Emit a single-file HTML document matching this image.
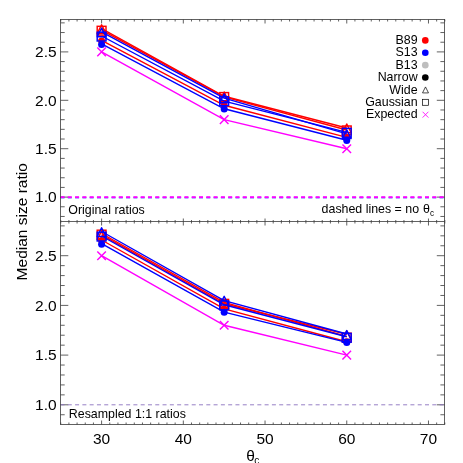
<!DOCTYPE html>
<html><head><meta charset="utf-8"><title>Median size ratio</title>
<style>html,body{margin:0;padding:0;background:#fff;}body{width:463px;height:463px;overflow:hidden;font-family:"Liberation Sans",sans-serif;}svg{display:block;will-change:transform;}</style>
</head><body>
<svg width="463" height="463" viewBox="0 0 463 463" font-family="Liberation Sans, sans-serif" fill="#000">
<rect width="463" height="463" fill="#fff"/>
<g stroke="#3a3a3a" stroke-width="0.8">
<line x1="60.74" y1="19.50" x2="60.74" y2="21.50" stroke="#3a3a3a" stroke-width="0.8" />
<line x1="60.74" y1="220.00" x2="60.74" y2="223.50" stroke="#3a3a3a" stroke-width="0.8" />
<line x1="60.74" y1="424.50" x2="60.74" y2="422.50" stroke="#3a3a3a" stroke-width="0.8" />
<line x1="68.91" y1="19.50" x2="68.91" y2="21.50" stroke="#3a3a3a" stroke-width="0.8" />
<line x1="68.91" y1="220.00" x2="68.91" y2="223.50" stroke="#3a3a3a" stroke-width="0.8" />
<line x1="68.91" y1="424.50" x2="68.91" y2="422.50" stroke="#3a3a3a" stroke-width="0.8" />
<line x1="77.08" y1="19.50" x2="77.08" y2="21.50" stroke="#3a3a3a" stroke-width="0.8" />
<line x1="77.08" y1="220.00" x2="77.08" y2="223.50" stroke="#3a3a3a" stroke-width="0.8" />
<line x1="77.08" y1="424.50" x2="77.08" y2="422.50" stroke="#3a3a3a" stroke-width="0.8" />
<line x1="85.26" y1="19.50" x2="85.26" y2="21.50" stroke="#3a3a3a" stroke-width="0.8" />
<line x1="85.26" y1="220.00" x2="85.26" y2="223.50" stroke="#3a3a3a" stroke-width="0.8" />
<line x1="85.26" y1="424.50" x2="85.26" y2="422.50" stroke="#3a3a3a" stroke-width="0.8" />
<line x1="93.43" y1="19.50" x2="93.43" y2="21.50" stroke="#3a3a3a" stroke-width="0.8" />
<line x1="93.43" y1="220.00" x2="93.43" y2="223.50" stroke="#3a3a3a" stroke-width="0.8" />
<line x1="93.43" y1="424.50" x2="93.43" y2="422.50" stroke="#3a3a3a" stroke-width="0.8" />
<line x1="101.60" y1="19.50" x2="101.60" y2="23.50" stroke="#3a3a3a" stroke-width="0.8" />
<line x1="101.60" y1="218.50" x2="101.60" y2="225.50" stroke="#3a3a3a" stroke-width="0.8" />
<line x1="101.60" y1="424.50" x2="101.60" y2="420.50" stroke="#3a3a3a" stroke-width="0.8" />
<line x1="109.77" y1="19.50" x2="109.77" y2="21.50" stroke="#3a3a3a" stroke-width="0.8" />
<line x1="109.77" y1="220.00" x2="109.77" y2="223.50" stroke="#3a3a3a" stroke-width="0.8" />
<line x1="109.77" y1="424.50" x2="109.77" y2="422.50" stroke="#3a3a3a" stroke-width="0.8" />
<line x1="117.94" y1="19.50" x2="117.94" y2="21.50" stroke="#3a3a3a" stroke-width="0.8" />
<line x1="117.94" y1="220.00" x2="117.94" y2="223.50" stroke="#3a3a3a" stroke-width="0.8" />
<line x1="117.94" y1="424.50" x2="117.94" y2="422.50" stroke="#3a3a3a" stroke-width="0.8" />
<line x1="126.12" y1="19.50" x2="126.12" y2="21.50" stroke="#3a3a3a" stroke-width="0.8" />
<line x1="126.12" y1="220.00" x2="126.12" y2="223.50" stroke="#3a3a3a" stroke-width="0.8" />
<line x1="126.12" y1="424.50" x2="126.12" y2="422.50" stroke="#3a3a3a" stroke-width="0.8" />
<line x1="134.29" y1="19.50" x2="134.29" y2="21.50" stroke="#3a3a3a" stroke-width="0.8" />
<line x1="134.29" y1="220.00" x2="134.29" y2="223.50" stroke="#3a3a3a" stroke-width="0.8" />
<line x1="134.29" y1="424.50" x2="134.29" y2="422.50" stroke="#3a3a3a" stroke-width="0.8" />
<line x1="142.46" y1="19.50" x2="142.46" y2="21.50" stroke="#3a3a3a" stroke-width="0.8" />
<line x1="142.46" y1="220.00" x2="142.46" y2="223.50" stroke="#3a3a3a" stroke-width="0.8" />
<line x1="142.46" y1="424.50" x2="142.46" y2="422.50" stroke="#3a3a3a" stroke-width="0.8" />
<line x1="150.63" y1="19.50" x2="150.63" y2="21.50" stroke="#3a3a3a" stroke-width="0.8" />
<line x1="150.63" y1="220.00" x2="150.63" y2="223.50" stroke="#3a3a3a" stroke-width="0.8" />
<line x1="150.63" y1="424.50" x2="150.63" y2="422.50" stroke="#3a3a3a" stroke-width="0.8" />
<line x1="158.80" y1="19.50" x2="158.80" y2="21.50" stroke="#3a3a3a" stroke-width="0.8" />
<line x1="158.80" y1="220.00" x2="158.80" y2="223.50" stroke="#3a3a3a" stroke-width="0.8" />
<line x1="158.80" y1="424.50" x2="158.80" y2="422.50" stroke="#3a3a3a" stroke-width="0.8" />
<line x1="166.98" y1="19.50" x2="166.98" y2="21.50" stroke="#3a3a3a" stroke-width="0.8" />
<line x1="166.98" y1="220.00" x2="166.98" y2="223.50" stroke="#3a3a3a" stroke-width="0.8" />
<line x1="166.98" y1="424.50" x2="166.98" y2="422.50" stroke="#3a3a3a" stroke-width="0.8" />
<line x1="175.15" y1="19.50" x2="175.15" y2="21.50" stroke="#3a3a3a" stroke-width="0.8" />
<line x1="175.15" y1="220.00" x2="175.15" y2="223.50" stroke="#3a3a3a" stroke-width="0.8" />
<line x1="175.15" y1="424.50" x2="175.15" y2="422.50" stroke="#3a3a3a" stroke-width="0.8" />
<line x1="183.32" y1="19.50" x2="183.32" y2="23.50" stroke="#3a3a3a" stroke-width="0.8" />
<line x1="183.32" y1="218.50" x2="183.32" y2="225.50" stroke="#3a3a3a" stroke-width="0.8" />
<line x1="183.32" y1="424.50" x2="183.32" y2="420.50" stroke="#3a3a3a" stroke-width="0.8" />
<line x1="191.49" y1="19.50" x2="191.49" y2="21.50" stroke="#3a3a3a" stroke-width="0.8" />
<line x1="191.49" y1="220.00" x2="191.49" y2="223.50" stroke="#3a3a3a" stroke-width="0.8" />
<line x1="191.49" y1="424.50" x2="191.49" y2="422.50" stroke="#3a3a3a" stroke-width="0.8" />
<line x1="199.66" y1="19.50" x2="199.66" y2="21.50" stroke="#3a3a3a" stroke-width="0.8" />
<line x1="199.66" y1="220.00" x2="199.66" y2="223.50" stroke="#3a3a3a" stroke-width="0.8" />
<line x1="199.66" y1="424.50" x2="199.66" y2="422.50" stroke="#3a3a3a" stroke-width="0.8" />
<line x1="207.84" y1="19.50" x2="207.84" y2="21.50" stroke="#3a3a3a" stroke-width="0.8" />
<line x1="207.84" y1="220.00" x2="207.84" y2="223.50" stroke="#3a3a3a" stroke-width="0.8" />
<line x1="207.84" y1="424.50" x2="207.84" y2="422.50" stroke="#3a3a3a" stroke-width="0.8" />
<line x1="216.01" y1="19.50" x2="216.01" y2="21.50" stroke="#3a3a3a" stroke-width="0.8" />
<line x1="216.01" y1="220.00" x2="216.01" y2="223.50" stroke="#3a3a3a" stroke-width="0.8" />
<line x1="216.01" y1="424.50" x2="216.01" y2="422.50" stroke="#3a3a3a" stroke-width="0.8" />
<line x1="224.18" y1="19.50" x2="224.18" y2="21.50" stroke="#3a3a3a" stroke-width="0.8" />
<line x1="224.18" y1="220.00" x2="224.18" y2="223.50" stroke="#3a3a3a" stroke-width="0.8" />
<line x1="224.18" y1="424.50" x2="224.18" y2="422.50" stroke="#3a3a3a" stroke-width="0.8" />
<line x1="232.35" y1="19.50" x2="232.35" y2="21.50" stroke="#3a3a3a" stroke-width="0.8" />
<line x1="232.35" y1="220.00" x2="232.35" y2="223.50" stroke="#3a3a3a" stroke-width="0.8" />
<line x1="232.35" y1="424.50" x2="232.35" y2="422.50" stroke="#3a3a3a" stroke-width="0.8" />
<line x1="240.52" y1="19.50" x2="240.52" y2="21.50" stroke="#3a3a3a" stroke-width="0.8" />
<line x1="240.52" y1="220.00" x2="240.52" y2="223.50" stroke="#3a3a3a" stroke-width="0.8" />
<line x1="240.52" y1="424.50" x2="240.52" y2="422.50" stroke="#3a3a3a" stroke-width="0.8" />
<line x1="248.70" y1="19.50" x2="248.70" y2="21.50" stroke="#3a3a3a" stroke-width="0.8" />
<line x1="248.70" y1="220.00" x2="248.70" y2="223.50" stroke="#3a3a3a" stroke-width="0.8" />
<line x1="248.70" y1="424.50" x2="248.70" y2="422.50" stroke="#3a3a3a" stroke-width="0.8" />
<line x1="256.87" y1="19.50" x2="256.87" y2="21.50" stroke="#3a3a3a" stroke-width="0.8" />
<line x1="256.87" y1="220.00" x2="256.87" y2="223.50" stroke="#3a3a3a" stroke-width="0.8" />
<line x1="256.87" y1="424.50" x2="256.87" y2="422.50" stroke="#3a3a3a" stroke-width="0.8" />
<line x1="265.04" y1="19.50" x2="265.04" y2="23.50" stroke="#3a3a3a" stroke-width="0.8" />
<line x1="265.04" y1="218.50" x2="265.04" y2="225.50" stroke="#3a3a3a" stroke-width="0.8" />
<line x1="265.04" y1="424.50" x2="265.04" y2="420.50" stroke="#3a3a3a" stroke-width="0.8" />
<line x1="273.21" y1="19.50" x2="273.21" y2="21.50" stroke="#3a3a3a" stroke-width="0.8" />
<line x1="273.21" y1="220.00" x2="273.21" y2="223.50" stroke="#3a3a3a" stroke-width="0.8" />
<line x1="273.21" y1="424.50" x2="273.21" y2="422.50" stroke="#3a3a3a" stroke-width="0.8" />
<line x1="281.38" y1="19.50" x2="281.38" y2="21.50" stroke="#3a3a3a" stroke-width="0.8" />
<line x1="281.38" y1="220.00" x2="281.38" y2="223.50" stroke="#3a3a3a" stroke-width="0.8" />
<line x1="281.38" y1="424.50" x2="281.38" y2="422.50" stroke="#3a3a3a" stroke-width="0.8" />
<line x1="289.56" y1="19.50" x2="289.56" y2="21.50" stroke="#3a3a3a" stroke-width="0.8" />
<line x1="289.56" y1="220.00" x2="289.56" y2="223.50" stroke="#3a3a3a" stroke-width="0.8" />
<line x1="289.56" y1="424.50" x2="289.56" y2="422.50" stroke="#3a3a3a" stroke-width="0.8" />
<line x1="297.73" y1="19.50" x2="297.73" y2="21.50" stroke="#3a3a3a" stroke-width="0.8" />
<line x1="297.73" y1="220.00" x2="297.73" y2="223.50" stroke="#3a3a3a" stroke-width="0.8" />
<line x1="297.73" y1="424.50" x2="297.73" y2="422.50" stroke="#3a3a3a" stroke-width="0.8" />
<line x1="305.90" y1="19.50" x2="305.90" y2="21.50" stroke="#3a3a3a" stroke-width="0.8" />
<line x1="305.90" y1="220.00" x2="305.90" y2="223.50" stroke="#3a3a3a" stroke-width="0.8" />
<line x1="305.90" y1="424.50" x2="305.90" y2="422.50" stroke="#3a3a3a" stroke-width="0.8" />
<line x1="314.07" y1="19.50" x2="314.07" y2="21.50" stroke="#3a3a3a" stroke-width="0.8" />
<line x1="314.07" y1="220.00" x2="314.07" y2="223.50" stroke="#3a3a3a" stroke-width="0.8" />
<line x1="314.07" y1="424.50" x2="314.07" y2="422.50" stroke="#3a3a3a" stroke-width="0.8" />
<line x1="322.24" y1="19.50" x2="322.24" y2="21.50" stroke="#3a3a3a" stroke-width="0.8" />
<line x1="322.24" y1="220.00" x2="322.24" y2="223.50" stroke="#3a3a3a" stroke-width="0.8" />
<line x1="322.24" y1="424.50" x2="322.24" y2="422.50" stroke="#3a3a3a" stroke-width="0.8" />
<line x1="330.42" y1="19.50" x2="330.42" y2="21.50" stroke="#3a3a3a" stroke-width="0.8" />
<line x1="330.42" y1="220.00" x2="330.42" y2="223.50" stroke="#3a3a3a" stroke-width="0.8" />
<line x1="330.42" y1="424.50" x2="330.42" y2="422.50" stroke="#3a3a3a" stroke-width="0.8" />
<line x1="338.59" y1="19.50" x2="338.59" y2="21.50" stroke="#3a3a3a" stroke-width="0.8" />
<line x1="338.59" y1="220.00" x2="338.59" y2="223.50" stroke="#3a3a3a" stroke-width="0.8" />
<line x1="338.59" y1="424.50" x2="338.59" y2="422.50" stroke="#3a3a3a" stroke-width="0.8" />
<line x1="346.76" y1="19.50" x2="346.76" y2="23.50" stroke="#3a3a3a" stroke-width="0.8" />
<line x1="346.76" y1="218.50" x2="346.76" y2="225.50" stroke="#3a3a3a" stroke-width="0.8" />
<line x1="346.76" y1="424.50" x2="346.76" y2="420.50" stroke="#3a3a3a" stroke-width="0.8" />
<line x1="354.93" y1="19.50" x2="354.93" y2="21.50" stroke="#3a3a3a" stroke-width="0.8" />
<line x1="354.93" y1="220.00" x2="354.93" y2="223.50" stroke="#3a3a3a" stroke-width="0.8" />
<line x1="354.93" y1="424.50" x2="354.93" y2="422.50" stroke="#3a3a3a" stroke-width="0.8" />
<line x1="363.10" y1="19.50" x2="363.10" y2="21.50" stroke="#3a3a3a" stroke-width="0.8" />
<line x1="363.10" y1="220.00" x2="363.10" y2="223.50" stroke="#3a3a3a" stroke-width="0.8" />
<line x1="363.10" y1="424.50" x2="363.10" y2="422.50" stroke="#3a3a3a" stroke-width="0.8" />
<line x1="371.28" y1="19.50" x2="371.28" y2="21.50" stroke="#3a3a3a" stroke-width="0.8" />
<line x1="371.28" y1="220.00" x2="371.28" y2="223.50" stroke="#3a3a3a" stroke-width="0.8" />
<line x1="371.28" y1="424.50" x2="371.28" y2="422.50" stroke="#3a3a3a" stroke-width="0.8" />
<line x1="379.45" y1="19.50" x2="379.45" y2="21.50" stroke="#3a3a3a" stroke-width="0.8" />
<line x1="379.45" y1="220.00" x2="379.45" y2="223.50" stroke="#3a3a3a" stroke-width="0.8" />
<line x1="379.45" y1="424.50" x2="379.45" y2="422.50" stroke="#3a3a3a" stroke-width="0.8" />
<line x1="387.62" y1="19.50" x2="387.62" y2="21.50" stroke="#3a3a3a" stroke-width="0.8" />
<line x1="387.62" y1="220.00" x2="387.62" y2="223.50" stroke="#3a3a3a" stroke-width="0.8" />
<line x1="387.62" y1="424.50" x2="387.62" y2="422.50" stroke="#3a3a3a" stroke-width="0.8" />
<line x1="395.79" y1="19.50" x2="395.79" y2="21.50" stroke="#3a3a3a" stroke-width="0.8" />
<line x1="395.79" y1="220.00" x2="395.79" y2="223.50" stroke="#3a3a3a" stroke-width="0.8" />
<line x1="395.79" y1="424.50" x2="395.79" y2="422.50" stroke="#3a3a3a" stroke-width="0.8" />
<line x1="403.96" y1="19.50" x2="403.96" y2="21.50" stroke="#3a3a3a" stroke-width="0.8" />
<line x1="403.96" y1="220.00" x2="403.96" y2="223.50" stroke="#3a3a3a" stroke-width="0.8" />
<line x1="403.96" y1="424.50" x2="403.96" y2="422.50" stroke="#3a3a3a" stroke-width="0.8" />
<line x1="412.14" y1="19.50" x2="412.14" y2="21.50" stroke="#3a3a3a" stroke-width="0.8" />
<line x1="412.14" y1="220.00" x2="412.14" y2="223.50" stroke="#3a3a3a" stroke-width="0.8" />
<line x1="412.14" y1="424.50" x2="412.14" y2="422.50" stroke="#3a3a3a" stroke-width="0.8" />
<line x1="420.31" y1="19.50" x2="420.31" y2="21.50" stroke="#3a3a3a" stroke-width="0.8" />
<line x1="420.31" y1="220.00" x2="420.31" y2="223.50" stroke="#3a3a3a" stroke-width="0.8" />
<line x1="420.31" y1="424.50" x2="420.31" y2="422.50" stroke="#3a3a3a" stroke-width="0.8" />
<line x1="428.48" y1="19.50" x2="428.48" y2="23.50" stroke="#3a3a3a" stroke-width="0.8" />
<line x1="428.48" y1="218.50" x2="428.48" y2="225.50" stroke="#3a3a3a" stroke-width="0.8" />
<line x1="428.48" y1="424.50" x2="428.48" y2="420.50" stroke="#3a3a3a" stroke-width="0.8" />
<line x1="436.65" y1="19.50" x2="436.65" y2="21.50" stroke="#3a3a3a" stroke-width="0.8" />
<line x1="436.65" y1="220.00" x2="436.65" y2="223.50" stroke="#3a3a3a" stroke-width="0.8" />
<line x1="436.65" y1="424.50" x2="436.65" y2="422.50" stroke="#3a3a3a" stroke-width="0.8" />
<line x1="444.82" y1="19.50" x2="444.82" y2="21.50" stroke="#3a3a3a" stroke-width="0.8" />
<line x1="444.82" y1="220.00" x2="444.82" y2="223.50" stroke="#3a3a3a" stroke-width="0.8" />
<line x1="444.82" y1="424.50" x2="444.82" y2="422.50" stroke="#3a3a3a" stroke-width="0.8" />
<line x1="60.50" y1="216.46" x2="64.70" y2="216.46" stroke="#3a3a3a" stroke-width="0.8" />
<line x1="444.60" y1="216.46" x2="440.40" y2="216.46" stroke="#3a3a3a" stroke-width="0.8" />
<line x1="60.50" y1="206.78" x2="64.70" y2="206.78" stroke="#3a3a3a" stroke-width="0.8" />
<line x1="444.60" y1="206.78" x2="440.40" y2="206.78" stroke="#3a3a3a" stroke-width="0.8" />
<line x1="60.50" y1="197.10" x2="68.30" y2="197.10" stroke="#3a3a3a" stroke-width="0.8" />
<line x1="444.60" y1="197.10" x2="436.80" y2="197.10" stroke="#3a3a3a" stroke-width="0.8" />
<line x1="60.50" y1="187.42" x2="64.70" y2="187.42" stroke="#3a3a3a" stroke-width="0.8" />
<line x1="444.60" y1="187.42" x2="440.40" y2="187.42" stroke="#3a3a3a" stroke-width="0.8" />
<line x1="60.50" y1="177.74" x2="64.70" y2="177.74" stroke="#3a3a3a" stroke-width="0.8" />
<line x1="444.60" y1="177.74" x2="440.40" y2="177.74" stroke="#3a3a3a" stroke-width="0.8" />
<line x1="60.50" y1="168.06" x2="64.70" y2="168.06" stroke="#3a3a3a" stroke-width="0.8" />
<line x1="444.60" y1="168.06" x2="440.40" y2="168.06" stroke="#3a3a3a" stroke-width="0.8" />
<line x1="60.50" y1="158.38" x2="64.70" y2="158.38" stroke="#3a3a3a" stroke-width="0.8" />
<line x1="444.60" y1="158.38" x2="440.40" y2="158.38" stroke="#3a3a3a" stroke-width="0.8" />
<line x1="60.50" y1="148.70" x2="68.30" y2="148.70" stroke="#3a3a3a" stroke-width="0.8" />
<line x1="444.60" y1="148.70" x2="436.80" y2="148.70" stroke="#3a3a3a" stroke-width="0.8" />
<line x1="60.50" y1="139.02" x2="64.70" y2="139.02" stroke="#3a3a3a" stroke-width="0.8" />
<line x1="444.60" y1="139.02" x2="440.40" y2="139.02" stroke="#3a3a3a" stroke-width="0.8" />
<line x1="60.50" y1="129.34" x2="64.70" y2="129.34" stroke="#3a3a3a" stroke-width="0.8" />
<line x1="444.60" y1="129.34" x2="440.40" y2="129.34" stroke="#3a3a3a" stroke-width="0.8" />
<line x1="60.50" y1="119.66" x2="64.70" y2="119.66" stroke="#3a3a3a" stroke-width="0.8" />
<line x1="444.60" y1="119.66" x2="440.40" y2="119.66" stroke="#3a3a3a" stroke-width="0.8" />
<line x1="60.50" y1="109.98" x2="64.70" y2="109.98" stroke="#3a3a3a" stroke-width="0.8" />
<line x1="444.60" y1="109.98" x2="440.40" y2="109.98" stroke="#3a3a3a" stroke-width="0.8" />
<line x1="60.50" y1="100.30" x2="68.30" y2="100.30" stroke="#3a3a3a" stroke-width="0.8" />
<line x1="444.60" y1="100.30" x2="436.80" y2="100.30" stroke="#3a3a3a" stroke-width="0.8" />
<line x1="60.50" y1="90.62" x2="64.70" y2="90.62" stroke="#3a3a3a" stroke-width="0.8" />
<line x1="444.60" y1="90.62" x2="440.40" y2="90.62" stroke="#3a3a3a" stroke-width="0.8" />
<line x1="60.50" y1="80.94" x2="64.70" y2="80.94" stroke="#3a3a3a" stroke-width="0.8" />
<line x1="444.60" y1="80.94" x2="440.40" y2="80.94" stroke="#3a3a3a" stroke-width="0.8" />
<line x1="60.50" y1="71.26" x2="64.70" y2="71.26" stroke="#3a3a3a" stroke-width="0.8" />
<line x1="444.60" y1="71.26" x2="440.40" y2="71.26" stroke="#3a3a3a" stroke-width="0.8" />
<line x1="60.50" y1="61.58" x2="64.70" y2="61.58" stroke="#3a3a3a" stroke-width="0.8" />
<line x1="444.60" y1="61.58" x2="440.40" y2="61.58" stroke="#3a3a3a" stroke-width="0.8" />
<line x1="60.50" y1="51.90" x2="68.30" y2="51.90" stroke="#3a3a3a" stroke-width="0.8" />
<line x1="444.60" y1="51.90" x2="436.80" y2="51.90" stroke="#3a3a3a" stroke-width="0.8" />
<line x1="60.50" y1="42.22" x2="64.70" y2="42.22" stroke="#3a3a3a" stroke-width="0.8" />
<line x1="444.60" y1="42.22" x2="440.40" y2="42.22" stroke="#3a3a3a" stroke-width="0.8" />
<line x1="60.50" y1="32.54" x2="64.70" y2="32.54" stroke="#3a3a3a" stroke-width="0.8" />
<line x1="444.60" y1="32.54" x2="440.40" y2="32.54" stroke="#3a3a3a" stroke-width="0.8" />
<line x1="60.50" y1="22.86" x2="64.70" y2="22.86" stroke="#3a3a3a" stroke-width="0.8" />
<line x1="444.60" y1="22.86" x2="440.40" y2="22.86" stroke="#3a3a3a" stroke-width="0.8" />
<line x1="60.50" y1="414.74" x2="64.70" y2="414.74" stroke="#3a3a3a" stroke-width="0.8" />
<line x1="444.60" y1="414.74" x2="440.40" y2="414.74" stroke="#3a3a3a" stroke-width="0.8" />
<line x1="60.50" y1="404.80" x2="68.30" y2="404.80" stroke="#3a3a3a" stroke-width="0.8" />
<line x1="444.60" y1="404.80" x2="436.80" y2="404.80" stroke="#3a3a3a" stroke-width="0.8" />
<line x1="60.50" y1="394.86" x2="64.70" y2="394.86" stroke="#3a3a3a" stroke-width="0.8" />
<line x1="444.60" y1="394.86" x2="440.40" y2="394.86" stroke="#3a3a3a" stroke-width="0.8" />
<line x1="60.50" y1="384.92" x2="64.70" y2="384.92" stroke="#3a3a3a" stroke-width="0.8" />
<line x1="444.60" y1="384.92" x2="440.40" y2="384.92" stroke="#3a3a3a" stroke-width="0.8" />
<line x1="60.50" y1="374.98" x2="64.70" y2="374.98" stroke="#3a3a3a" stroke-width="0.8" />
<line x1="444.60" y1="374.98" x2="440.40" y2="374.98" stroke="#3a3a3a" stroke-width="0.8" />
<line x1="60.50" y1="365.04" x2="64.70" y2="365.04" stroke="#3a3a3a" stroke-width="0.8" />
<line x1="444.60" y1="365.04" x2="440.40" y2="365.04" stroke="#3a3a3a" stroke-width="0.8" />
<line x1="60.50" y1="355.10" x2="68.30" y2="355.10" stroke="#3a3a3a" stroke-width="0.8" />
<line x1="444.60" y1="355.10" x2="436.80" y2="355.10" stroke="#3a3a3a" stroke-width="0.8" />
<line x1="60.50" y1="345.16" x2="64.70" y2="345.16" stroke="#3a3a3a" stroke-width="0.8" />
<line x1="444.60" y1="345.16" x2="440.40" y2="345.16" stroke="#3a3a3a" stroke-width="0.8" />
<line x1="60.50" y1="335.22" x2="64.70" y2="335.22" stroke="#3a3a3a" stroke-width="0.8" />
<line x1="444.60" y1="335.22" x2="440.40" y2="335.22" stroke="#3a3a3a" stroke-width="0.8" />
<line x1="60.50" y1="325.28" x2="64.70" y2="325.28" stroke="#3a3a3a" stroke-width="0.8" />
<line x1="444.60" y1="325.28" x2="440.40" y2="325.28" stroke="#3a3a3a" stroke-width="0.8" />
<line x1="60.50" y1="315.34" x2="64.70" y2="315.34" stroke="#3a3a3a" stroke-width="0.8" />
<line x1="444.60" y1="315.34" x2="440.40" y2="315.34" stroke="#3a3a3a" stroke-width="0.8" />
<line x1="60.50" y1="305.40" x2="68.30" y2="305.40" stroke="#3a3a3a" stroke-width="0.8" />
<line x1="444.60" y1="305.40" x2="436.80" y2="305.40" stroke="#3a3a3a" stroke-width="0.8" />
<line x1="60.50" y1="295.46" x2="64.70" y2="295.46" stroke="#3a3a3a" stroke-width="0.8" />
<line x1="444.60" y1="295.46" x2="440.40" y2="295.46" stroke="#3a3a3a" stroke-width="0.8" />
<line x1="60.50" y1="285.52" x2="64.70" y2="285.52" stroke="#3a3a3a" stroke-width="0.8" />
<line x1="444.60" y1="285.52" x2="440.40" y2="285.52" stroke="#3a3a3a" stroke-width="0.8" />
<line x1="60.50" y1="275.58" x2="64.70" y2="275.58" stroke="#3a3a3a" stroke-width="0.8" />
<line x1="444.60" y1="275.58" x2="440.40" y2="275.58" stroke="#3a3a3a" stroke-width="0.8" />
<line x1="60.50" y1="265.64" x2="64.70" y2="265.64" stroke="#3a3a3a" stroke-width="0.8" />
<line x1="444.60" y1="265.64" x2="440.40" y2="265.64" stroke="#3a3a3a" stroke-width="0.8" />
<line x1="60.50" y1="255.70" x2="68.30" y2="255.70" stroke="#3a3a3a" stroke-width="0.8" />
<line x1="444.60" y1="255.70" x2="436.80" y2="255.70" stroke="#3a3a3a" stroke-width="0.8" />
<line x1="60.50" y1="245.76" x2="64.70" y2="245.76" stroke="#3a3a3a" stroke-width="0.8" />
<line x1="444.60" y1="245.76" x2="440.40" y2="245.76" stroke="#3a3a3a" stroke-width="0.8" />
<line x1="60.50" y1="235.82" x2="64.70" y2="235.82" stroke="#3a3a3a" stroke-width="0.8" />
<line x1="444.60" y1="235.82" x2="440.40" y2="235.82" stroke="#3a3a3a" stroke-width="0.8" />
<line x1="60.50" y1="225.88" x2="64.70" y2="225.88" stroke="#3a3a3a" stroke-width="0.8" />
<line x1="444.60" y1="225.88" x2="440.40" y2="225.88" stroke="#3a3a3a" stroke-width="0.8" />
</g>
<line x1="60.50" y1="197.60" x2="444.60" y2="197.60" stroke="#0000ff" stroke-width="1.6" stroke-dasharray="4 3.29" opacity="0.6"/>
<line x1="60.50" y1="197.10" x2="444.60" y2="197.10" stroke="#ff00ff" stroke-width="1.8" stroke-dasharray="4 3.29"/>
<line x1="60.50" y1="404.80" x2="444.60" y2="404.80" stroke="#8a70c0" stroke-width="0.9" stroke-dasharray="4 3.29"/>
<polyline points="101.60,40.40 224.18,105.30 346.76,137.40" fill="none" stroke="#ff0000" stroke-width="1.4"/>
<circle cx="101.60" cy="41.00" r="3.50" fill="#ff0000"/>
<circle cx="224.18" cy="105.40" r="3.50" fill="#ff0000"/>
<circle cx="346.76" cy="137.80" r="3.50" fill="#ff0000"/>
<polyline points="101.60,28.60 224.18,96.30 346.76,128.00" fill="none" stroke="#ff0000" stroke-width="1.4"/>
<path d="M97.20 33.60L101.60 24.80L106.00 33.60Z" fill="none" stroke="#ff0000" stroke-width="1.45" stroke-linejoin="round"/>
<path d="M219.78 100.80L224.18 92.00L228.58 100.80Z" fill="none" stroke="#ff0000" stroke-width="1.45" stroke-linejoin="round"/>
<path d="M342.36 132.80L346.76 124.00L351.16 132.80Z" fill="none" stroke="#ff0000" stroke-width="1.45" stroke-linejoin="round"/>
<polyline points="101.60,30.10 224.18,96.90 346.76,130.00" fill="none" stroke="#ff0000" stroke-width="1.4"/>
<rect x="97.20" y="26.30" width="8.80" height="8.80" fill="none" stroke="#ff0000" stroke-width="1.45"/>
<rect x="219.78" y="92.60" width="8.80" height="8.80" fill="none" stroke="#ff0000" stroke-width="1.45"/>
<rect x="342.36" y="126.00" width="8.80" height="8.80" fill="none" stroke="#ff0000" stroke-width="1.45"/>
<polyline points="101.60,43.90 224.18,108.80 346.76,140.20" fill="none" stroke="#0000ff" stroke-width="1.4"/>
<circle cx="101.60" cy="44.50" r="3.50" fill="#0000ff"/>
<circle cx="224.18" cy="108.90" r="3.50" fill="#0000ff"/>
<circle cx="346.76" cy="140.60" r="3.50" fill="#0000ff"/>
<polyline points="101.60,31.80 224.18,98.20 346.76,133.80" fill="none" stroke="#0000ff" stroke-width="1.4"/>
<path d="M97.20 36.80L101.60 28.00L106.00 36.80Z" fill="none" stroke="#0000ff" stroke-width="1.45" stroke-linejoin="round"/>
<path d="M219.78 102.70L224.18 93.90L228.58 102.70Z" fill="none" stroke="#0000ff" stroke-width="1.45" stroke-linejoin="round"/>
<path d="M342.36 138.60L346.76 129.80L351.16 138.60Z" fill="none" stroke="#0000ff" stroke-width="1.45" stroke-linejoin="round"/>
<polyline points="101.60,36.00 224.18,101.10 346.76,132.40" fill="none" stroke="#0000ff" stroke-width="1.4"/>
<rect x="97.20" y="32.20" width="8.80" height="8.80" fill="none" stroke="#0000ff" stroke-width="1.45"/>
<rect x="219.78" y="96.80" width="8.80" height="8.80" fill="none" stroke="#0000ff" stroke-width="1.45"/>
<rect x="342.36" y="128.40" width="8.80" height="8.80" fill="none" stroke="#0000ff" stroke-width="1.45"/>
<polyline points="101.60,51.90 224.18,119.66 346.76,148.70" fill="none" stroke="#ff00ff" stroke-width="1.45"/>
<path d="M97.30 47.60L105.90 56.20M97.30 56.20L105.90 47.60" fill="none" stroke="#ff00ff" stroke-width="1.45"/>
<path d="M219.88 115.36L228.48 123.96M219.88 123.96L228.48 115.36" fill="none" stroke="#ff00ff" stroke-width="1.45"/>
<path d="M342.46 144.40L351.06 153.00M342.46 153.00L351.06 144.40" fill="none" stroke="#ff00ff" stroke-width="1.45"/>
<polyline points="101.60,240.00 224.18,308.90 346.76,341.80" fill="none" stroke="#ff0000" stroke-width="1.4"/>
<circle cx="101.60" cy="240.60" r="3.50" fill="#ff0000"/>
<circle cx="224.18" cy="309.00" r="3.50" fill="#ff0000"/>
<circle cx="346.76" cy="341.80" r="3.50" fill="#ff0000"/>
<polyline points="101.60,234.80 224.18,303.80 346.76,334.30" fill="none" stroke="#ff0000" stroke-width="1.4"/>
<path d="M97.20 239.80L101.60 231.00L106.00 239.80Z" fill="none" stroke="#ff0000" stroke-width="1.45" stroke-linejoin="round"/>
<path d="M219.78 308.30L224.18 299.50L228.58 308.30Z" fill="none" stroke="#ff0000" stroke-width="1.45" stroke-linejoin="round"/>
<path d="M342.36 339.70L346.76 330.90L351.16 339.70Z" fill="none" stroke="#ff0000" stroke-width="1.45" stroke-linejoin="round"/>
<polyline points="101.60,233.50 224.18,302.40 346.76,336.50" fill="none" stroke="#ff0000" stroke-width="1.4"/>
<rect x="97.20" y="230.20" width="8.80" height="8.80" fill="none" stroke="#ff0000" stroke-width="1.45"/>
<rect x="219.78" y="299.40" width="8.80" height="8.80" fill="none" stroke="#ff0000" stroke-width="1.45"/>
<rect x="342.36" y="333.20" width="8.80" height="8.80" fill="none" stroke="#ff0000" stroke-width="1.45"/>
<polyline points="101.60,243.70 224.18,312.10 346.76,342.40" fill="none" stroke="#0000ff" stroke-width="1.4"/>
<circle cx="101.60" cy="244.30" r="3.50" fill="#0000ff"/>
<circle cx="224.18" cy="312.20" r="3.50" fill="#0000ff"/>
<circle cx="346.76" cy="342.60" r="3.50" fill="#0000ff"/>
<polyline points="101.60,231.50 224.18,300.60 346.76,334.00" fill="none" stroke="#0000ff" stroke-width="1.4"/>
<path d="M97.20 236.50L101.60 227.70L106.00 236.50Z" fill="none" stroke="#0000ff" stroke-width="1.45" stroke-linejoin="round"/>
<path d="M219.78 305.10L224.18 296.30L228.58 305.10Z" fill="none" stroke="#0000ff" stroke-width="1.45" stroke-linejoin="round"/>
<path d="M342.36 339.40L346.76 330.60L351.16 339.40Z" fill="none" stroke="#0000ff" stroke-width="1.45" stroke-linejoin="round"/>
<polyline points="101.60,236.00 224.18,304.80 346.76,336.80" fill="none" stroke="#0000ff" stroke-width="1.4"/>
<rect x="97.20" y="232.20" width="8.80" height="8.80" fill="none" stroke="#0000ff" stroke-width="1.45"/>
<rect x="219.78" y="300.90" width="8.80" height="8.80" fill="none" stroke="#0000ff" stroke-width="1.45"/>
<rect x="342.36" y="333.40" width="8.80" height="8.80" fill="none" stroke="#0000ff" stroke-width="1.45"/>
<polyline points="101.60,255.70 224.18,325.28 346.76,355.10" fill="none" stroke="#ff00ff" stroke-width="1.45"/>
<path d="M97.30 251.40L105.90 260.00M97.30 260.00L105.90 251.40" fill="none" stroke="#ff00ff" stroke-width="1.45"/>
<path d="M219.88 320.98L228.48 329.58M219.88 329.58L228.48 320.98" fill="none" stroke="#ff00ff" stroke-width="1.45"/>
<path d="M342.46 350.80L351.06 359.40M342.46 359.40L351.06 350.80" fill="none" stroke="#ff00ff" stroke-width="1.45"/>
<rect x="60.5" y="19.5" width="384.10" height="405.00" fill="none" stroke="#3a3a3a" stroke-width="0.8"/>
<line x1="60.50" y1="221.50" x2="444.60" y2="221.50" stroke="#3a3a3a" stroke-width="0.8" />
<text x="56.6" y="202.40" font-size="15.5" text-anchor="end">1.0</text>
<text x="56.6" y="410.10" font-size="15.5" text-anchor="end">1.0</text>
<text x="56.6" y="154.00" font-size="15.5" text-anchor="end">1.5</text>
<text x="56.6" y="360.40" font-size="15.5" text-anchor="end">1.5</text>
<text x="56.6" y="105.60" font-size="15.5" text-anchor="end">2.0</text>
<text x="56.6" y="310.70" font-size="15.5" text-anchor="end">2.0</text>
<text x="56.6" y="57.20" font-size="15.5" text-anchor="end">2.5</text>
<text x="56.6" y="261.00" font-size="15.5" text-anchor="end">2.5</text>
<text x="101.60" y="443.6" font-size="15.5" text-anchor="middle">30</text>
<text x="183.32" y="443.6" font-size="15.5" text-anchor="middle">40</text>
<text x="265.04" y="443.6" font-size="15.5" text-anchor="middle">50</text>
<text x="346.76" y="443.6" font-size="15.5" text-anchor="middle">60</text>
<text x="428.48" y="443.6" font-size="15.5" text-anchor="middle">70</text>
<text transform="translate(27,221.8) rotate(-90)" font-size="15.5" text-anchor="middle">Median size ratio</text>
<text x="246.2" y="460.5" font-size="15.5">θ<tspan font-size="10.23" dy="3.6" dx="-0.6">c</tspan></text>
<text x="68.3" y="214.1" font-size="12.4">Original ratios</text>
<text x="68.8" y="418.1" font-size="12.4">Resampled 1:1 ratios</text>
<text x="321.6" y="213.3" font-size="12.4">dashed lines = no <tspan dx="0.5">θ</tspan><tspan font-size="8.18" dy="2.6" dx="0">c</tspan></text>
<text x="417.6" y="44.00" font-size="12.4" text-anchor="end">B89</text>
<circle cx="425.30" cy="40.40" r="3.32" fill="#ff0000"/>
<text x="417.6" y="56.38" font-size="12.4" text-anchor="end">S13</text>
<circle cx="425.30" cy="52.78" r="3.32" fill="#0000ff"/>
<text x="417.6" y="68.76" font-size="12.4" text-anchor="end">B13</text>
<circle cx="425.30" cy="65.16" r="3.32" fill="#bebebe"/>
<text x="417.6" y="81.14" font-size="12.4" text-anchor="end">Narrow</text>
<circle cx="425.30" cy="77.54" r="3.32" fill="#000000"/>
<text x="417.6" y="93.52" font-size="12.4" text-anchor="end">Wide</text>
<path d="M422.51 92.91L425.50 86.93L428.49 92.91Z" fill="none" stroke="#000000" stroke-width="0.7" stroke-linejoin="round"/>
<text x="417.6" y="105.90" font-size="12.4" text-anchor="end">Gaussian</text>
<rect x="422.51" y="99.31" width="5.98" height="5.98" fill="none" stroke="#000000" stroke-width="0.7"/>
<text x="417.6" y="118.28" font-size="12.4" text-anchor="end">Expected</text>
<path d="M422.58 111.76L428.42 117.60M422.58 117.60L428.42 111.76" fill="none" stroke="#ff00ff" stroke-width="0.85"/>
</svg>
</body></html>
